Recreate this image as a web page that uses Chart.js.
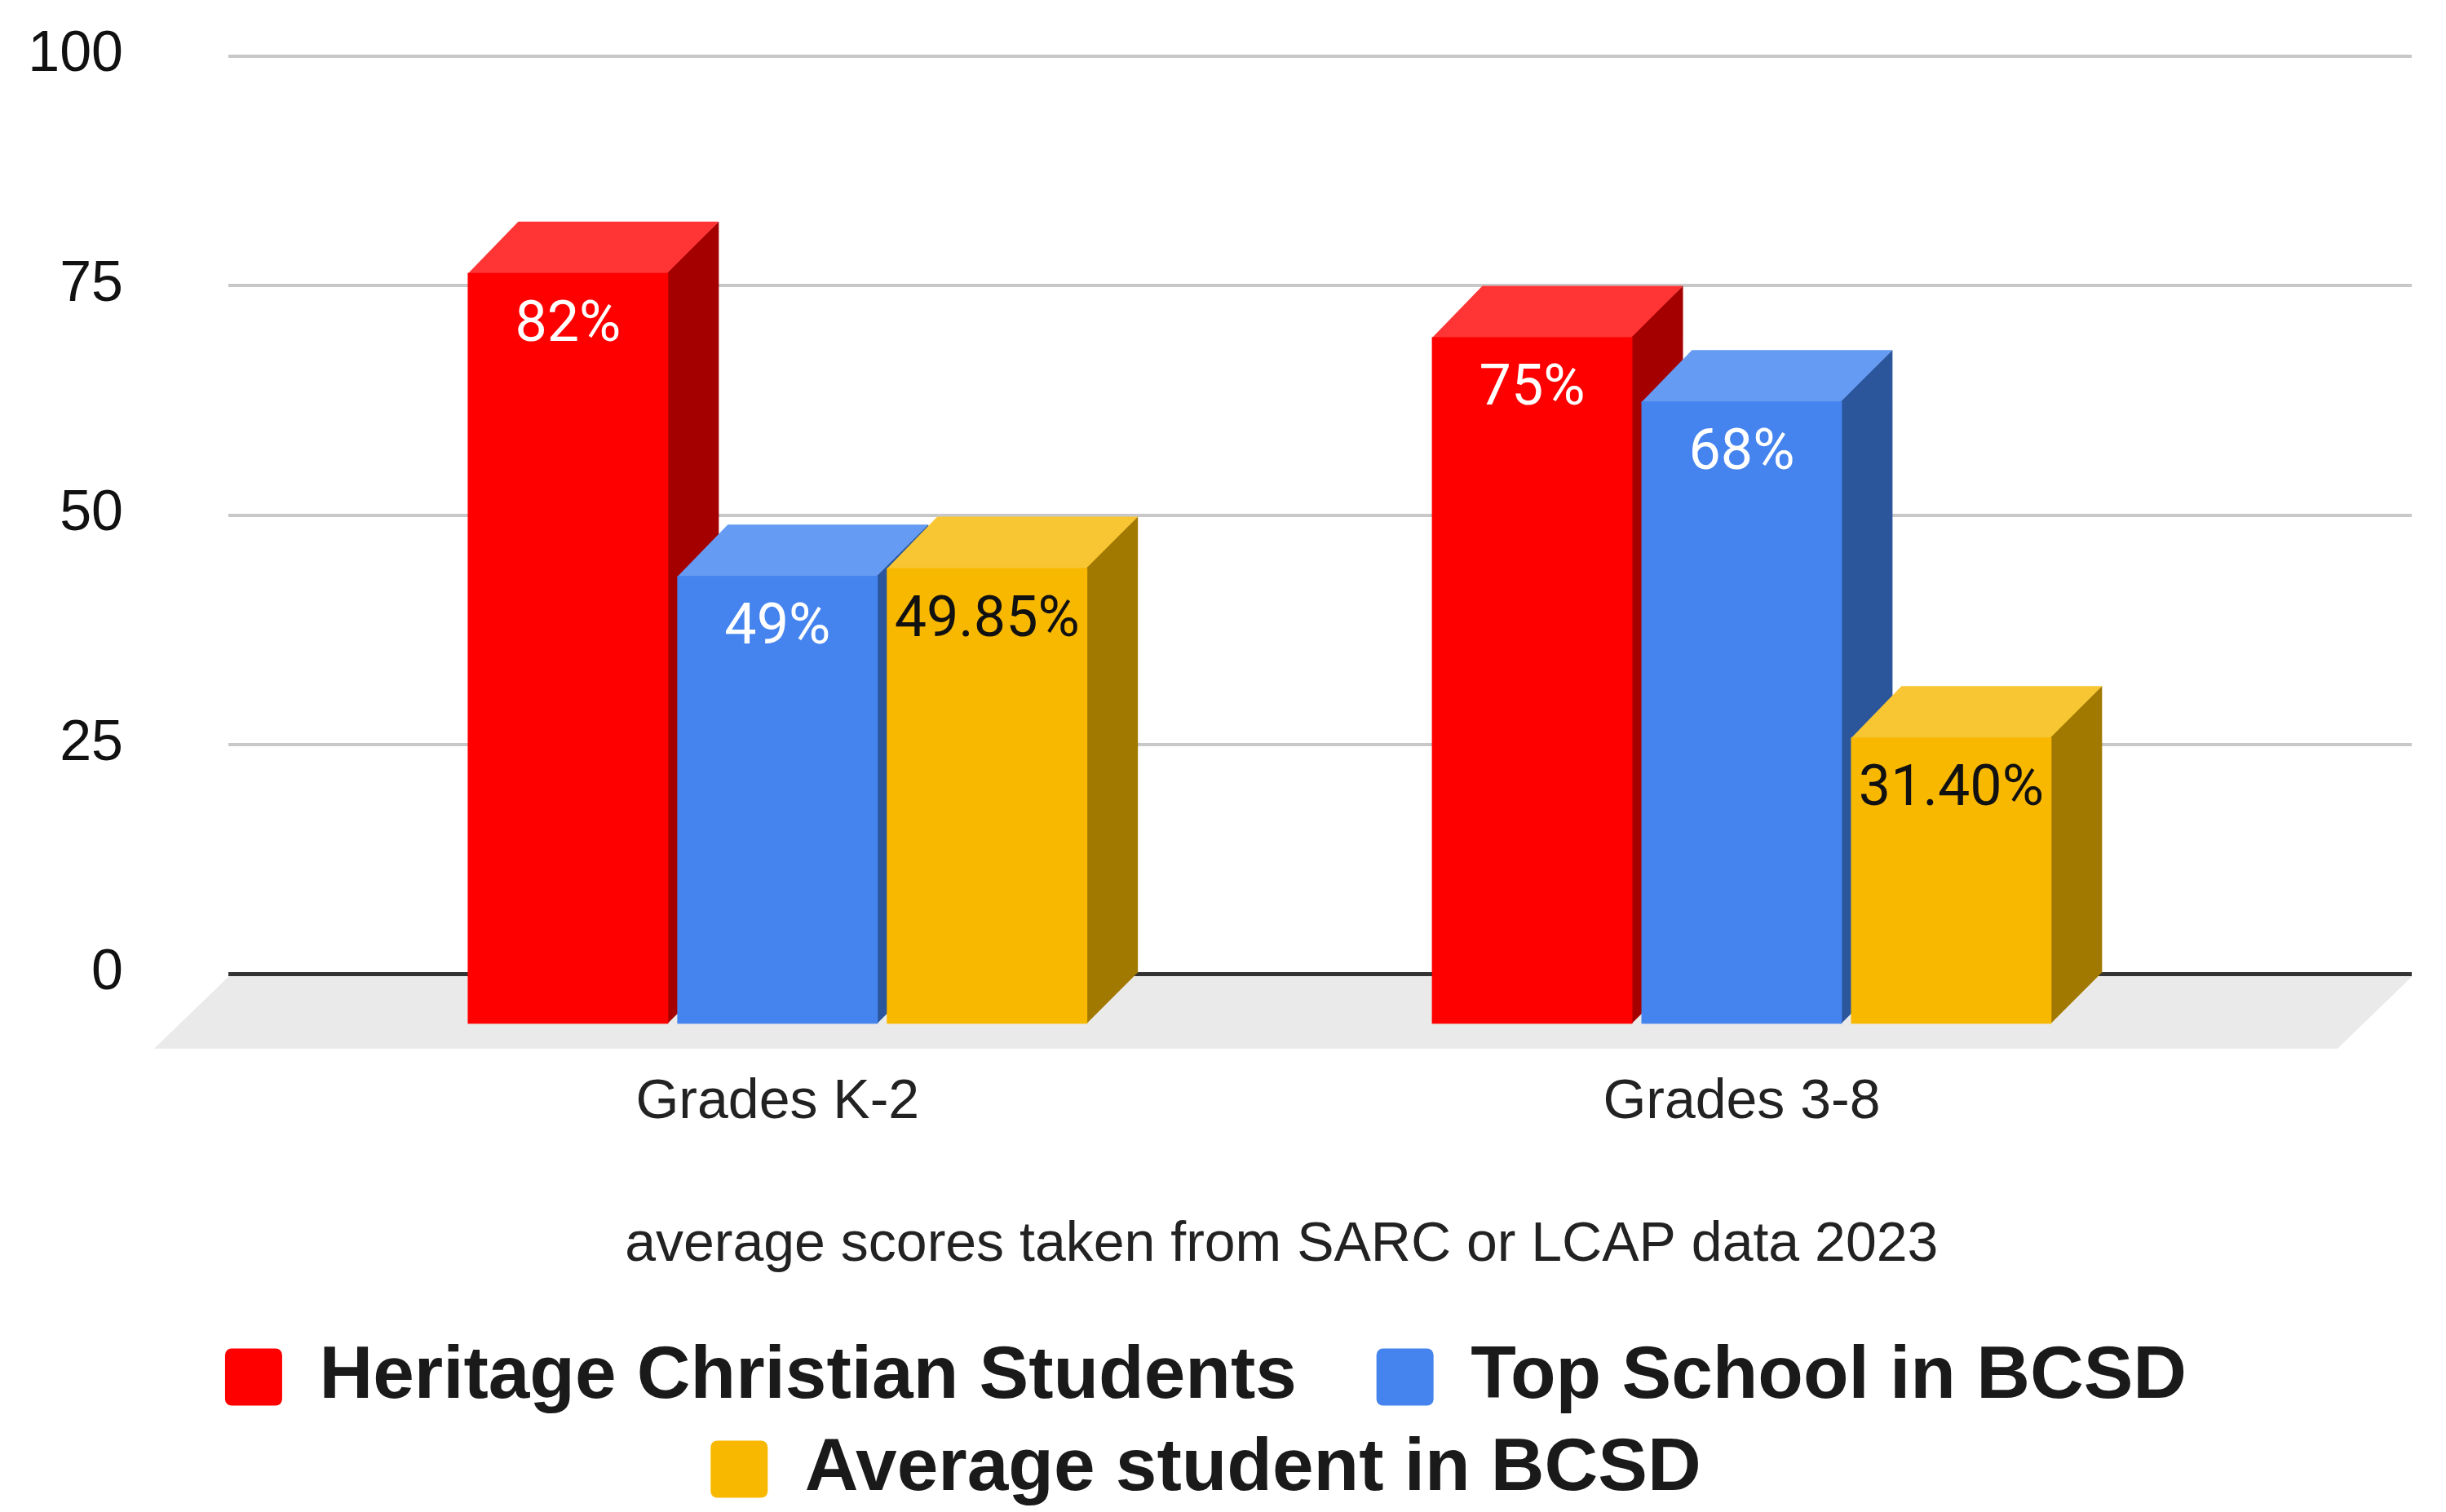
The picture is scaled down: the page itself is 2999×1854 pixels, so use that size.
<!DOCTYPE html>
<html>
<head>
<meta charset="utf-8">
<title>Scores 2023</title>
<script src="https://cdn.jsdelivr.net/npm/chart.js@4.4.1/dist/chart.umd.min.js"></script>
<style>
  html, body { margin: 0; padding: 0; background: #fff; overflow: hidden; }
  #wrap { width: 2999px; height: 1857px; }
</style>
</head>
<body>
<div id="wrap"><canvas id="chartScores"></canvas></div>
<script>
// Données du graphique
const categories = ['Grades K-2', 'Grades 3-8'];
const seriesNames = ['Heritage Christian Students', 'Top School in BCSD', 'Average student in BCSD'];
const heritageValues = [82, 75];
const topSchoolValues = [49, 68];
const averageValues = [49.85, 31.4];
const heritageLabels = ['82%', '75%'];
const topSchoolLabels = ['49%', '68%'];
const averageLabels = ['49.85%', '31.40%'];
const yTicks = [0, 25, 50, 75, 100];
const axisTitle = 'average scores taken from SARC or LCAP data 2023';

// couleurs : face avant / dessus / côté / texte
const faces = [
    { front: '#ff0000', top: '#ff3535', side: '#a50000', text: '#ffffff' },
    { front: '#4584ee', top: '#659bf3', side: '#2b569c', text: '#ffffff' },
    { front: '#f9b800', top: '#f9c633', side: '#a27900', text: '#111111' }
];
const valueLabels = [heritageLabels, topSchoolLabels, averageLabels];
const DEPTH_X = 62;
const DEPTH_Y = 63;

function poly(ctx, color, pts) {
    ctx.fillStyle = color;
    ctx.beginPath();
    ctx.moveTo(pts[0][0], pts[0][1]);
    for (let k = 1; k < pts.length; k++) ctx.lineTo(pts[k][0], pts[k][1]);
    ctx.closePath();
    ctx.fill();
}

// barres en 3D + sol gris
const bars3d = {
    id: 'bars3d',
    beforeDatasetsDraw(chart) {
        const { ctx, chartArea, scales } = chart;
        const y0 = scales.y.getPixelForValue(0);
        ctx.save();
        poly(ctx, '#eaeaea', [
            [chartArea.left, y0 + 3], [chartArea.right, y0 + 3],
            [chartArea.right - 91, y0 + 91], [chartArea.left - 91, y0 + 91]
        ]);
        ctx.restore();
    },
    // les barres plates sont remplacées par les prismes dessinés plus bas
    beforeDatasetDraw() {
        return false;
    },
    afterDatasetsDraw(chart) {
        const ctx = chart.ctx;
        ctx.save();
        categories.forEach((cat, i) => {
            chart.data.datasets.forEach((ds, d) => {
                const el = chart.getDatasetMeta(d).data[i];
                const { x, y, base, width } = el.getProps(['x', 'y', 'base', 'width'], true);
                const l = x - width / 2, r = x + width / 2;
                const c = faces[d];
                poly(ctx, c.top, [[l - DEPTH_X, y + DEPTH_Y + 1], [l, y], [r, y], [r - DEPTH_X, y + DEPTH_Y + 1]]);
                poly(ctx, c.side, [[r - DEPTH_X - 1, y + DEPTH_Y], [r, y], [r, base], [r - DEPTH_X - 1, base + DEPTH_Y]]);
                ctx.fillStyle = c.front;
                ctx.fillRect(l - DEPTH_X, y + DEPTH_Y, width, base - y);
                ctx.fillStyle = c.text;
                ctx.font = '70px Roboto';
                ctx.textAlign = 'center';
                ctx.textBaseline = 'alphabetic';
                ctx.fillText(valueLabels[d][i], x - DEPTH_X, y + DEPTH_Y + 83);
            });
        });
        ctx.restore();
    }
};

const ctxScores = document.getElementById('chartScores');
new Chart(ctxScores, {
    type: 'bar',
    data: {
        labels: categories.map((c, i) => i),
        datasets: [
            { label: seriesNames[0], data: heritageValues, backgroundColor: faces[0].front, borderWidth: 0 },
            { label: seriesNames[1], data: topSchoolValues, backgroundColor: faces[1].front, borderWidth: 0 },
            { label: seriesNames[2], data: averageValues, backgroundColor: faces[2].front, borderWidth: 0 }
        ]
    },
    options: {
        responsive: true,
        maintainAspectRatio: false,
        animation: false,
        categoryPercentage: 0.652,
        barPercentage: 0.957,
        layout: { padding: { left: 0, right: 42, top: 69, bottom: 0 } },
        scales: {
            x: {
                type: 'linear',
                offset: false,
                bounds: 'data',
                min: -0.622,
                max: 1.6425,
                afterBuildTicks: (axis) => { axis.ticks = categories.map((c, i) => ({ value: i })); },
                grid: { display: false, drawTicks: false, offset: false },
                border: { display: false },
                ticks: {
                    callback: (v) => categories[v],
                    autoSkip: false,
                    maxRotation: 0,
                    padding: 117,
                    labelOffset: -DEPTH_X,
                    color: '#222',
                    font: { family: 'Liberation Sans', size: 68 }
                },
                title: {
                    display: true,
                    // espaces insécables : centre le titre sur le plan avant
                    text: axisTitle + '\u00a0\u00a0\u00a0\u00a0\u00a0',
                    color: '#222',
                    font: { family: 'Liberation Sans', size: 68 },
                    padding: { top: -24, bottom: 53 }
                }
            },
            y: {
                min: 0,
                max: 100,
                afterBuildTicks: (axis) => { axis.ticks = yTicks.map(v => ({ value: v })); },
                afterFit: (axis) => {
                    axis.width = 280;
                    axis.paddingTop = 0;
                    axis.paddingBottom = 0;
                },
                border: { display: false },
                grid: {
                    drawTicks: false,
                    color: (c) => c.tick && c.tick.value === 0 ? '#333333' : '#c8c8c8',
                    lineWidth: (c) => c.tick && c.tick.value === 0 ? 5 : 4
                },
                ticks: {
                    padding: 129,
                    labelOffset: -1,
                    color: '#111',
                    font: { family: 'Liberation Sans', size: 70 }
                }
            }
        },
        plugins: {
            tooltip: { enabled: false },
            legend: {
                position: 'bottom',
                labels: {
                    boxWidth: 70,
                    boxHeight: 70,
                    padding: 22,
                    useBorderRadius: true,
                    borderRadius: 8,
                    color: '#1a1a1a',
                    font: { family: 'Liberation Sans', size: 91, weight: 'bold' },
                    generateLabels(chart) {
                        const items = Chart.defaults.plugins.legend.labels.generateLabels(chart);
                        items[0].text += '\u00a0\u00a0\u00a0';
                        return items;
                    }
                }
            }
        }
    },
    plugins: [bars3d]
});
</script>
</body>
</html>
